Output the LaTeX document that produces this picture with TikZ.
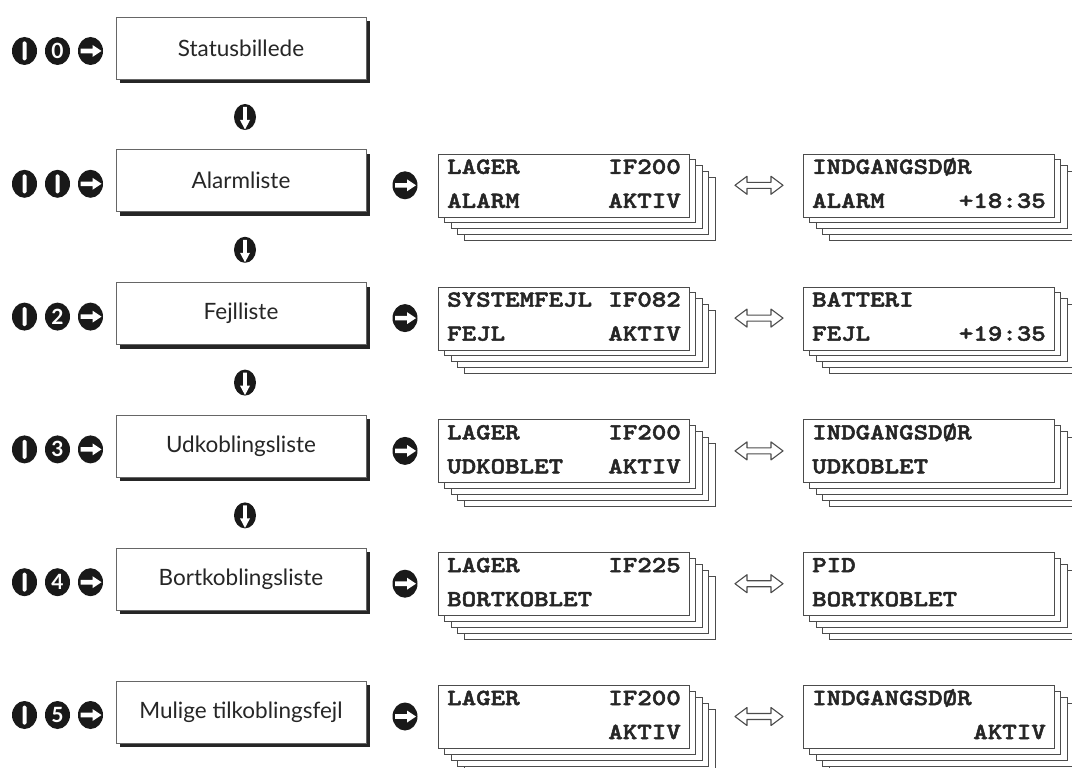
\documentclass[tikz,border=0pt]{standalone}
\usepackage{fontspec}
\newfontfamily\labelfont{Lato}
\newfontfamily\dispfont{lmmonolt10-bold.otf}[FakeStretch=1.2, FakeBold=2.2]
\usetikzlibrary{shadows}

\tikzset{
  listbox/.style={draw=black!60, line width=0.8pt, fill=white,
    minimum width=250pt, minimum height=62pt, inner sep=0pt, text=black!85,
    font=\labelfont\fontsize{22.5}{26}\selectfont,
    drop shadow={shadow xshift=4pt, shadow yshift=-4pt, opacity=1, fill=black!85}},
  dlayer/.style={draw=black!70, line width=0.8pt, fill=white},
  dispbox/.style={dlayer, minimum width=251pt, minimum height=63pt, inner sep=0pt},
  dtext/.style={font=\dispfont\fontsize{23}{23}\selectfont, text=black!85, inner sep=0pt},
  dblarrow/.style={draw=black!70, line width=1.1pt, fill=white, line join=round},
  pics/barcirc/.style={code={
    \fill[black!90] (0,0) ellipse [x radius=12.5, y radius=14];
    \fill[white, rounded corners=1.5pt] (-2,-9.5) rectangle (2,9.5);}},
  pics/digcirc/.style={code={
    \fill[black!90] (0,0) ellipse [x radius=12.5, y radius=14];
    \node[text=white, inner sep=0pt, font=\labelfont\bfseries\fontsize{21}{21}\selectfont] {#1};}},
  pics/rarrow/.style={code={
    \fill[black!90] (0,0) ellipse [x radius=12.5, y radius=14];
    \fill[white] (-10,-2.3) -- (2,-2.3) -- (2,-6) -- (11,0) -- (2,6) -- (2,2.3) -- (-10,2.3) -- cycle;}},
  pics/darrow/.style={code={
    \fill[black!90] (0,0) ellipse [x radius=11, y radius=13];
    \fill[white] (-1.8,-10) -- (1.8,-10) -- (1.8,3) -- (5,3) -- (0,12.5) -- (-5,3) -- (-1.8,3) -- cycle;}},
}

\newcommand\dstack[7]{%
  \foreach \k in {4,3,2,1}{\draw[dlayer] ({#2+6.5*\k},{#3+6*\k}) rectangle ++(251,63);}
  \node[dispbox, anchor=north west] (#1) at (#2,#3) {};
  \node[dtext, anchor=base west] (#1-tl) at ({#2+9},{#3+20}) {#4};
  \node[dtext, anchor=base east] (#1-tr) at ({#2+243},{#3+20}) {#5};
  \node[dtext, anchor=base west] (#1-bl) at ({#2+9},{#3+54}) {#6};
  \node[dtext, anchor=base east] (#1-br) at ({#2+243},{#3+54}) {#7};
}

\newcommand\drow[8]{%
  \pgfmathsetmacro\ry{48+132.8*#1}
  \pgfmathsetmacro\dtop{\ry-27}
  \pic (ra#1) at (405,{\ry+4.5}) {rarrow};
  \dstack{dA#1}{438}{\dtop}{#2}{#3}{#4}{#5}
  \dstack{dB#1}{803}{\dtop}{#6}{}{#7}{#8}
  \draw[dblarrow] (735,{\ry+4.5}) -- ++(12,-9) -- ++(0,6) -- ++(24,0) -- ++(0,-6)
     -- ++(12,9) -- ++(-12,9) -- ++(0,-6) -- ++(-24,0) -- ++(0,6) -- cycle;
}

\begin{document}
\begin{tikzpicture}[x=1pt,y=-1pt]
\useasboundingbox[fill=white] (0,0) rectangle (1072,768);

% left column
\foreach \i/\lab/\dig in {0/Statusbillede/0, 1/Alarmliste/1, 2/Fejlliste/2,
    3/Udkoblingsliste/3, 4/Bortkoblingsliste/4, 5/Mulige tilkoblingsfejl/5}{
  \pgfmathsetmacro\ry{48+132.8*\i}
  \node[listbox] (L\i) at (241,\ry) {\lab};
  \pic (ca\i) at (24.5,{\ry+3}) {barcirc};
  \ifnum\dig=1
    \pic (cb\i) at (57.5,{\ry+3}) {barcirc};
  \else
    \pic (cb\i) at (57.5,{\ry+3}) {digcirc=\dig};
  \fi
  \pic (cc\i) at (90.5,{\ry+3}) {rarrow};
}
\foreach \i in {0,1,2,3}{
  \pgfmathsetmacro\ry{48+132.8*\i+69}
  \pic (dn\i) at (245,\ry) {darrow};
}

% displays
\drow{1}{LAGER}{IF200}{ALARM}{AKTIV}{INDGANGSDØR}{ALARM}{+18:35}
\drow{2}{SYSTEMFEJL}{IF082}{FEJL}{AKTIV}{BATTERI}{FEJL}{+19:35}
\drow{3}{LAGER}{IF200}{UDKOBLET}{AKTIV}{INDGANGSDØR}{UDKOBLET}{}
\drow{4}{LAGER}{IF225}{BORTKOBLET}{}{PID}{BORTKOBLET}{}
\drow{5}{LAGER}{IF200}{}{AKTIV}{INDGANGSDØR}{}{AKTIV}
\end{tikzpicture}
\end{document}
